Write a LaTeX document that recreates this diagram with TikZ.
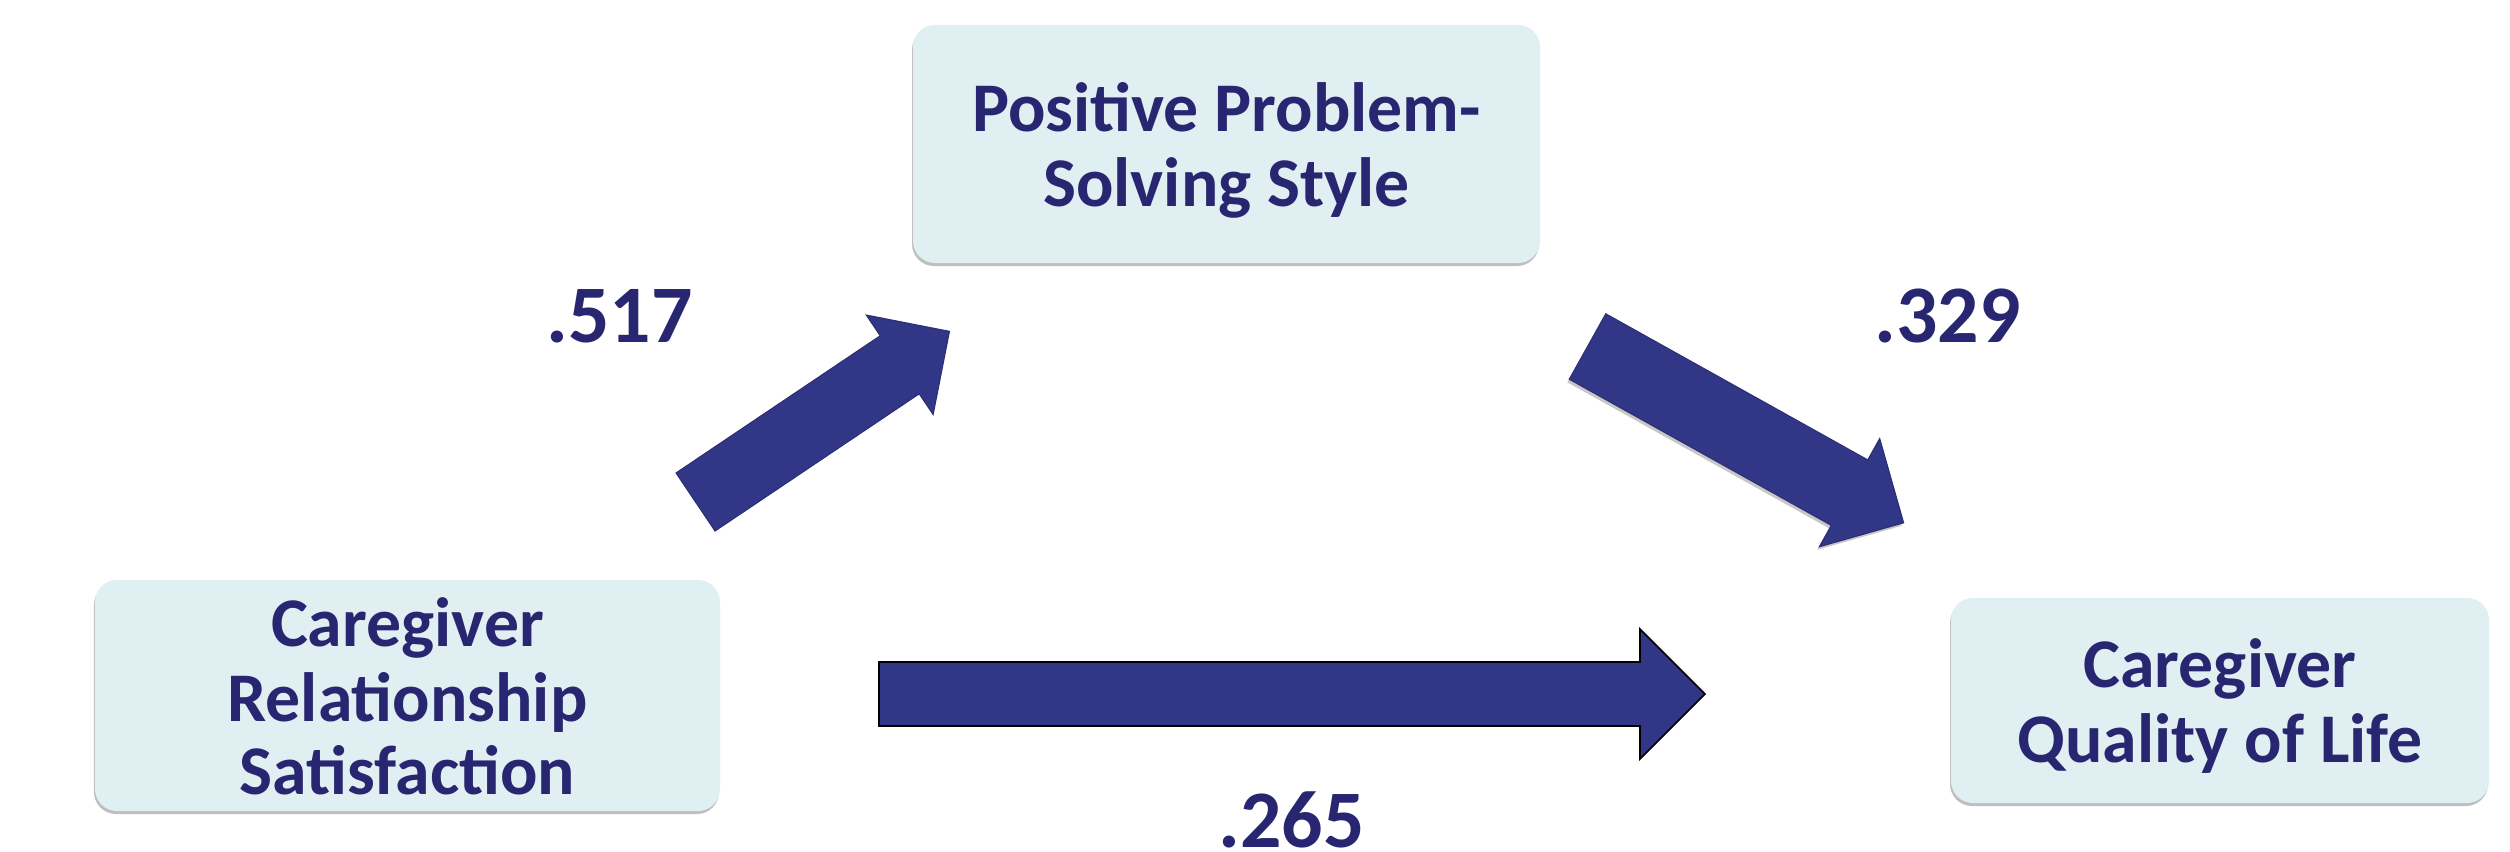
\documentclass[tikz,border=0pt]{standalone}
\usepackage{fontspec}
\setmainfont{Carlito}
\usetikzlibrary{shadows}
\definecolor{boxfill}{RGB}{224,239,242}
\definecolor{labelnavy}{RGB}{40,38,112}
\definecolor{arrownavy}{RGB}{50,54,134}
\begin{document}
\begin{tikzpicture}[x=1bp,y=-1bp,
  varbox/.style={draw=none, fill=boxfill, rounded corners=22bp, inner sep=0pt,
    drop shadow={shadow xshift=-1bp, shadow yshift=-3bp, fill=black, opacity=0.25}},
  boxtext/.style={text=labelnavy, font=\fontsize{70}{75}\selectfont\bfseries,
    inner sep=0pt, anchor=base},
  coef/.style={text=labelnavy, font=\fontsize{82}{90}\selectfont\bfseries,
    inner sep=0pt, anchor=base},
  blockarrow/.style={fill=arrownavy, draw=arrownavy!85!black, line width=1bp,
    line join=miter}]

% page
\path[fill=white] (0,0) rectangle (2510,851);

% variable boxes
\node[varbox, minimum width=627bp, minimum height=238bp] (pps) at (1226.5,144) {};
\node[boxtext] (pps1) at (1226.5,131) {Positive Problem-};
\node[boxtext] (pps2) at (1226.5,206) {Solving Style};

\node[varbox, minimum width=625bp, minimum height=231bp] (crs) at (407.5,695.5) {};
\node[boxtext] (crs1) at (407.5,646) {Caregiver};
\node[boxtext] (crs2) at (407.5,721) {Relationship};
\node[boxtext] (crs3) at (407.5,794) {Satisfaction};

\node[varbox, minimum width=538bp, minimum height=205bp] (cql) at (2220,700.5) {};
\node[boxtext] (cql1) at (2220,687) {Caregiver};
\node[boxtext] (cql2) at (2220,762) {Quality of Life};

% block arrows: tail points, drawn in local (length, half-width) coordinates
\coordinate (a1tail) at (695.5,502);
\coordinate (a2tail) at (1587.5,346.5);
\coordinate (a3tail) at (879,694);

\begin{scope}[shift={(a1tail)}, rotate=33.9]
  \path[blockarrow] (0,-35) -- (246,-35) -- (246,-60) -- (306,0)
    -- (246,60) -- (246,35) -- (0,35) -- cycle;
\end{scope}

\begin{scope}[shift={(a2tail)}, rotate=-29.15]
  \path[blockarrow, drop shadow={shadow xshift=-2bp, shadow yshift=-3bp,
      fill=black, opacity=0.22}]
    (0,-37.5) -- (300,-37.5) -- (300,-62) -- (362,0)
    -- (300,62) -- (300,37.5) -- (0,37.5) -- cycle;
\end{scope}

\begin{scope}[shift={(a3tail)}]
  \path[blockarrow, draw=black, line width=1.6bp]
    (0,-32) -- (761,-32) -- (761,-65) -- (826,0)
    -- (761,65) -- (761,32) -- (0,32) -- cycle;
\end{scope}

% path coefficients
\node[coef] (c517) at (619.5,342) {.517};
\node[coef] (c329) at (1947.5,342) {.329};
\node[coef] (c265) at (1291.5,847) {.265};
\end{tikzpicture}
\end{document}
